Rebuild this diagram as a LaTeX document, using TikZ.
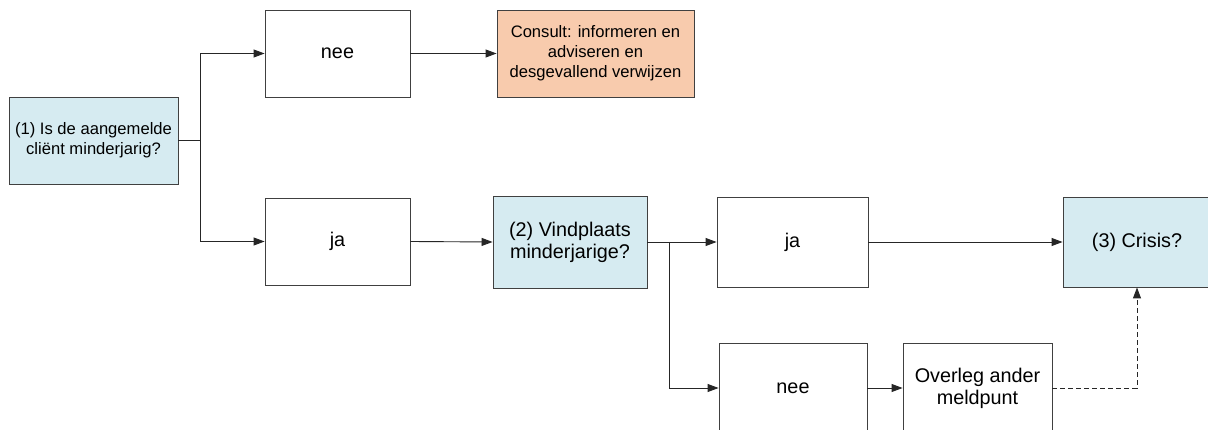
\documentclass[tikz,border=0pt]{standalone}
\usepackage{fontspec}
\setmainfont{Liberation Sans}
\usetikzlibrary{arrows.meta}
\definecolor{qblue}{HTML}{D6EBF1}
\definecolor{qorange}{HTML}{F8CBAD}
\definecolor{qline}{HTML}{404040}
\tikzset{
  box/.style={draw=qline, line width=0.9pt, fill=white, inner sep=2pt, align=center, text=black},
  big/.style={font=\fontsize{19.8pt}{22pt}\selectfont},
  small/.style={font=\fontsize{16.6pt}{19.8pt}\selectfont},
  qbox/.style={box, fill=qblue},
  obox/.style={box, fill=qorange},
  arr/.style={draw=black!85, line width=0.9pt, -{Triangle[length=11pt,width=8pt]}},
  conn/.style={draw=black!85, line width=0.9pt},
}
\begin{document}
\begin{tikzpicture}[x=1pt,y=-1pt]
\useasboundingbox (0,0) rectangle (1208,430);
\clip (0,0) rectangle (1208,430);
\fill[white] (0,0) rectangle (1208,430);
\node[qbox, small, minimum width=169pt, minimum height=87pt] (b1) at (93.5,140.5) {(1) Is de aangemelde\\cliënt minderjarig?};
\node[box, big, minimum width=145pt, minimum height=87pt] (nee1) at (337.5,53.5) {nee};
\node[obox, small, minimum width=197pt, minimum height=87pt] (cons) at (595.5,53.5) {Consult: informeren en\\adviseren en\\desgevallend verwijzen};
\node[box, big, minimum width=145pt, minimum height=87pt] (ja1) at (337.5,241.5) {ja};
\node[qbox, big, minimum width=154pt, minimum height=92pt] (v2) at (570,242) {(2) Vindplaats\\minderjarige?};
\node[box, big, minimum width=151pt, minimum height=90pt] (ja2) at (792.5,242) {ja};
\node[qbox, big, minimum width=148pt, minimum height=90pt] (cr) at (1137,242) {(3) Crisis?};
\node[box, big, minimum width=148pt, minimum height=90pt] (nee2) at (793,388) {nee};
\node[box, big, minimum width=149pt, minimum height=90pt] (ov) at (977.5,388) {Overleg ander\\meldpunt};
\coordinate (j1) at (200,140.5);
\coordinate (j2) at (669,242);
\draw[conn] (b1.east) -- (j1);
\draw[arr] (j1) |- (nee1.west);
\draw[arr] (j1) |- (ja1.west);
\draw[arr] (nee1.east) -- (cons.west);
\draw[arr] (ja1.east) -- (v2.west);
\draw[arr] (v2.east) -- (ja2.west);
\draw[arr] (j2) |- (nee2.west);
\draw[arr] (ja2.east) -- (cr.west);
\draw[arr] (nee2.east) -- (ov.west);
\draw[arr, dashed, dash pattern=on 5pt off 3pt] (ov.east) -| (cr.south);
\end{tikzpicture}
\end{document}
